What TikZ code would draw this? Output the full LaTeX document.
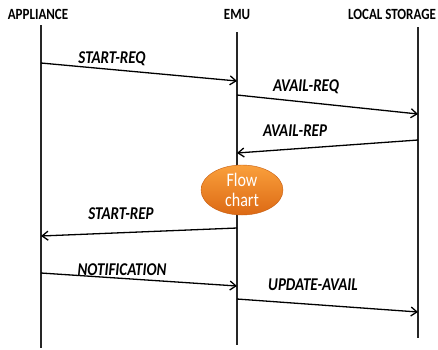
\documentclass[tikz,border=0pt]{standalone}
\usepackage{fontspec}
\usepackage{graphicx}
\setmainfont{Carlito}
\usetikzlibrary{arrows.meta,shapes.geometric}
\definecolor{orangetop}{RGB}{250,160,60}
\definecolor{orangebot}{RGB}{220,105,20}
% slightly condensed lettering: stretch text vertically
\newcommand{\tallbox}[1]{\scalebox{1}[1.2]{#1}}
\begin{document}
\begin{tikzpicture}[x=1pt,y=-1pt,
  head/.style={font=\bfseries\fontsize{13}{15}\selectfont, inner sep=0pt},
  lifeline/.style={line width=1.4pt, black!85},
  msg/.style={line width=1.3pt, -{Straight Barb[length=6pt,width=9pt,line width=1.3pt]}},
  msglabel/.style={font=\bfseries\itshape\fontsize{15}{17}\selectfont, inner sep=0pt}]
\useasboundingbox (0,0) rectangle (438,349);
% headings
\node[head] (happ) at (38,14) {\tallbox{APPLIANCE}};
\node[head] (hemu) at (237,14) {\tallbox{EMU}};
\node[head] (hls) at (392,14) {\tallbox{LOCAL STORAGE}};
% lifelines
\coordinate (a0) at (41,25);  \coordinate (a1) at (41,348);
\coordinate (e0) at (237,32); \coordinate (e1) at (237,345);
\coordinate (s0) at (418,27); \coordinate (s1) at (418,338);
\draw[lifeline] (a0) -- (a1);
\draw[lifeline] (e0) -- (e1);
\draw[lifeline] (s0) -- (s1);
% message end points
\coordinate (m1a) at (41,63);   \coordinate (m1b) at (237,81);
\coordinate (m2a) at (237,95);  \coordinate (m2b) at (418,114);
\coordinate (m3a) at (418,140); \coordinate (m3b) at (237,153);
\coordinate (m4a) at (237,228); \coordinate (m4b) at (41,236);
\coordinate (m5a) at (41,273);  \coordinate (m5b) at (237,286);
\coordinate (m6a) at (237,299); \coordinate (m6b) at (418,312);
\draw[msg] (m1a) -- (m1b);
\draw[msg] (m2a) -- (m2b);
\draw[msg] (m3a) -- (m3b);
\draw[msg] (m4a) -- (m4b);
\draw[msg] (m5a) -- (m5b);
\draw[msg] (m6a) -- (m6b);
% message labels
\node[msglabel] (l1) at (112,59) {\tallbox{START-REQ}};
\node[msglabel] (l2) at (306,87) {\tallbox{AVAIL-REQ}};
\node[msglabel] (l3) at (295,131) {\tallbox{AVAIL-REP}};
\node[msglabel] (l4) at (121,214) {\tallbox{START-REP}};
\node[msglabel] (l5) at (122,270) {\tallbox{NOTIFICATION}};
\node[msglabel] (l6) at (313,285) {\tallbox{UPDATE-AVAIL}};
% flow chart bubble
\node[ellipse, minimum width=82pt, minimum height=50pt, inner sep=0pt,
      top color=orangetop, bottom color=orangebot, draw=orangebot!90!black, line width=0.4pt,
      text=white, align=center, font=\fontsize{16}{20}\selectfont] (fc) at (242,190)
      {\tallbox{Flow}\\\tallbox{chart}};
\end{tikzpicture}
\end{document}
